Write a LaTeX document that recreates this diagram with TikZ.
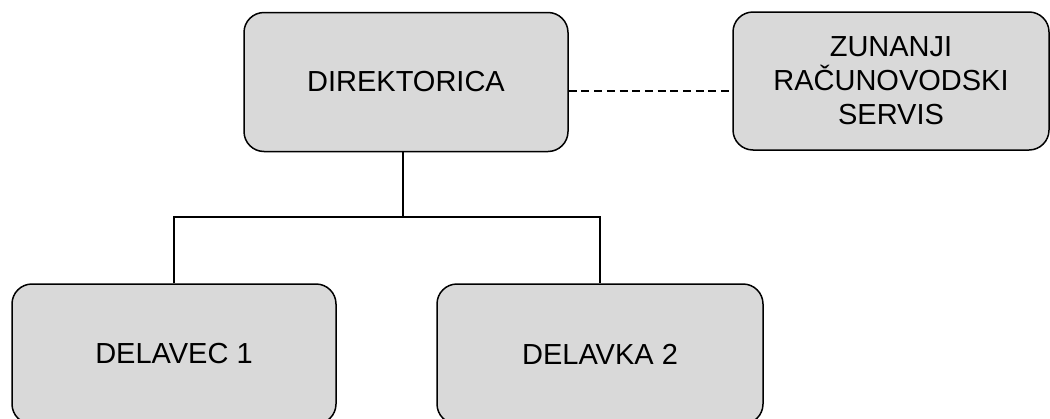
\documentclass[tikz,border=0pt]{standalone}
\usepackage{fontspec}
\setmainfont{Liberation Sans}
\definecolor{boxgray}{HTML}{D9D9D9}
\begin{document}
\begin{tikzpicture}[x=1pt,y=1pt,
  orgbox/.style={draw=black, line width=1.5pt, fill=boxgray, rounded corners=20pt,
    inner sep=0pt, align=center, font=\fontsize{29}{34}\selectfont},
  link/.style={draw=black, line width=1.5pt},
  dashlink/.style={draw=black, line width=1.5pt, dash pattern=on 8pt off 4.7pt}]
\useasboundingbox (0,0) rectangle (1050,-418);
\node[orgbox, minimum width=324pt, minimum height=139pt] (dir) at (406,-82) {DIREKTORICA};
\node[orgbox, minimum width=316pt, minimum height=138pt] (zun) at (891,-81) {ZUNANJI\\RAČUNOVODSKI\\SERVIS};
\node[orgbox, minimum width=324pt, minimum height=140pt] (del1) at (174,-354) {DELAVEC 1};
\node[orgbox, minimum width=326pt, minimum height=140pt] (del2) at (600,-354) {DELAVKA 2};
\coordinate (j) at (403,-217);
\draw[link] (dir.south -| j) -- (j);
\draw[link] (del1.north) |- (j) -| (del2.north);
\draw[dashlink] ([yshift=-9pt]dir.east) -- ([yshift=-9pt]dir.east -| zun.west);
\end{tikzpicture}
\end{document}
